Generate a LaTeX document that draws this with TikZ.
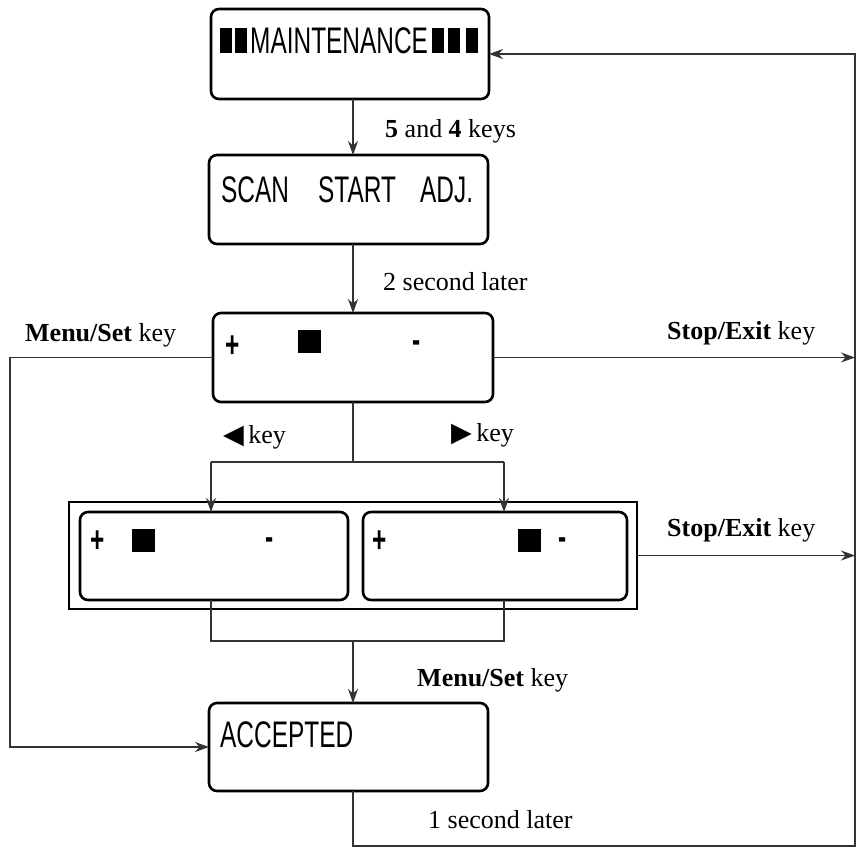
\documentclass[tikz,border=0pt]{standalone}
\usepackage{fontspec}
\setmainfont{Liberation Serif}
\newfontfamily\lcd[FakeStretch=0.66]{Liberation Sans}
\newfontfamily\dejavu{DejaVu Sans}
\usetikzlibrary{arrows.meta,calc}
\tikzset{
  lcdbox/.style={draw, line width=2.6pt, rounded corners=8pt, inner sep=0pt, outer sep=0pt},
  framebox/.style={draw, line width=1.3pt, inner sep=0pt, outer sep=0pt},
  conn/.style={line width=1.4pt, draw=black!80},
  arr/.style={conn, -{Stealth[length=14pt,width=10pt]}},
  lbl/.style={inner sep=0pt, anchor=base west, font=\fontsize{26}{30}\selectfont},
  lcdtxt/.style={inner sep=0pt, anchor=base west, font=\lcd\fontsize{37}{40}\selectfont},
  pm/.style={inner sep=0pt, anchor=base, font=\lcd\bfseries\fontsize{37}{40}\selectfont},
  blk/.style={fill=black, inner sep=0pt, minimum width=12pt, minimum height=25pt},
  sq/.style={fill=black, inner sep=0pt, minimum size=23pt},
}
\begin{document}
\begin{tikzpicture}[x=1pt,y=-1pt]
\useasboundingbox (0,0) rectangle (858,854);

% boxes
\node[lcdbox, minimum width=278pt, minimum height=90pt] (B1) at (350,54) {};
\node[lcdbox, minimum width=279pt, minimum height=89pt] (B2) at (348.5,199.5) {};
\node[lcdbox, minimum width=280pt, minimum height=89pt] (B3) at (353,357.5) {};
\node[framebox, minimum width=568pt, minimum height=107pt] (O) at (353,555.5) {};
\node[lcdbox, minimum width=268pt, minimum height=88pt] (L) at (214,556) {};
\node[lcdbox, minimum width=264pt, minimum height=88pt] (R) at (495,556) {};
\node[lcdbox, minimum width=279pt, minimum height=88pt] (ACC) at (348.5,747) {};

% box 1 content
\node[blk] (b1) at (226,40.5) {};
\node[blk] (b2) at (241,40.5) {};
\node[lcdtxt] (tM) at (250,53) {MAINTENANCE};
\node[blk] (b3) at (437.5,40.5) {};
\node[blk] (b4) at (453.5,40.5) {};
\node[blk] (b5) at (472,40.5) {};

% box 2 content
\node[lcdtxt] (tS1) at (221,202) {SCAN};
\node[lcdtxt] (tS2) at (318,202) {START};
\node[lcdtxt] (tS3) at (420,202) {ADJ.};

% box 3 content
\node[pm] (p3) at (233,357) {+};
\node[sq] (s3) at (309.5,341.5) {};
\node[pm] (m3) at (417,352) {-};

% left inner box
\node[pm] (pL) at (98,552) {+};
\node[sq] (sL) at (143.5,540.5) {};
\node[pm] (mL) at (270,549) {-};

% right inner box
\node[pm] (pR) at (380,552) {+};
\node[sq] (sR) at (529.5,540.5) {};
\node[pm] (mR) at (563,549) {-};

% accepted
\node[lcdtxt] (tA) at (220,747) {ACCEPTED};

% coordinates
\coordinate (spine) at (353,0);
\coordinate (mlc) at (10,357.5);
\coordinate (se1) at (855,357.5);
\coordinate (se2) at (855,555.5);
\coordinate (split) at (353,462);
\coordinate (ta) at (211,462);
\coordinate (tb) at (504,462);
\coordinate (ma) at (211,641);
\coordinate (mb) at (504,641);
\coordinate (bl) at (353,846);
\coordinate (br) at (855,846);
\coordinate (tr) at (855,54);

% connectors
\draw[arr] (B1.south -| spine) -- (B2.north -| spine);
\draw[arr] (B2.south -| spine) -- (B3.north -| spine);
\draw[arr] (B3.west) -- (mlc) |- (ACC.west);
\draw[arr] (B3.east) -- (se1);
\draw[conn] (B3.south -| spine) -- (split);
\draw[conn] (ta) -- (tb);
\draw[arr] (ta) -- (ta |- L.north);
\draw[arr] (tb) -- (tb |- R.north);
\draw[arr] (O.east) -- (se2);
\draw[conn] (ta |- L.south) -- (ma) -- (mb) -- (tb |- R.south);
\draw[arr] (ma -| spine) -- (ACC.north -| spine);
\draw[arr] (ACC.south -| spine) -- (bl) -- (br) -- (tr) -- (B1.east);

% labels
\node[lbl] (l1) at (385,137) {\textbf{5} and \textbf{4} keys};
\node[lbl] (l2) at (383,290) {2 second later};
\node[lbl] (l3) at (25,341) {\textbf{Menu/Set} key};
\node[lbl] (l4) at (667,339) {\textbf{Stop/Exit} key};
\node[lbl] (l5) at (223,443) {{\dejavu\fontsize{27}{28}\selectfont ◀}\,key};
\node[lbl] (l6) at (451,441) {{\dejavu\fontsize{27}{28}\selectfont ▶}\,key};
\node[lbl] (l7) at (667,536) {\textbf{Stop/Exit} key};
\node[lbl] (l8) at (417,686) {\textbf{Menu/Set} key};
\node[lbl] (l9) at (428,828) {1 second later};
\end{tikzpicture}
\end{document}
